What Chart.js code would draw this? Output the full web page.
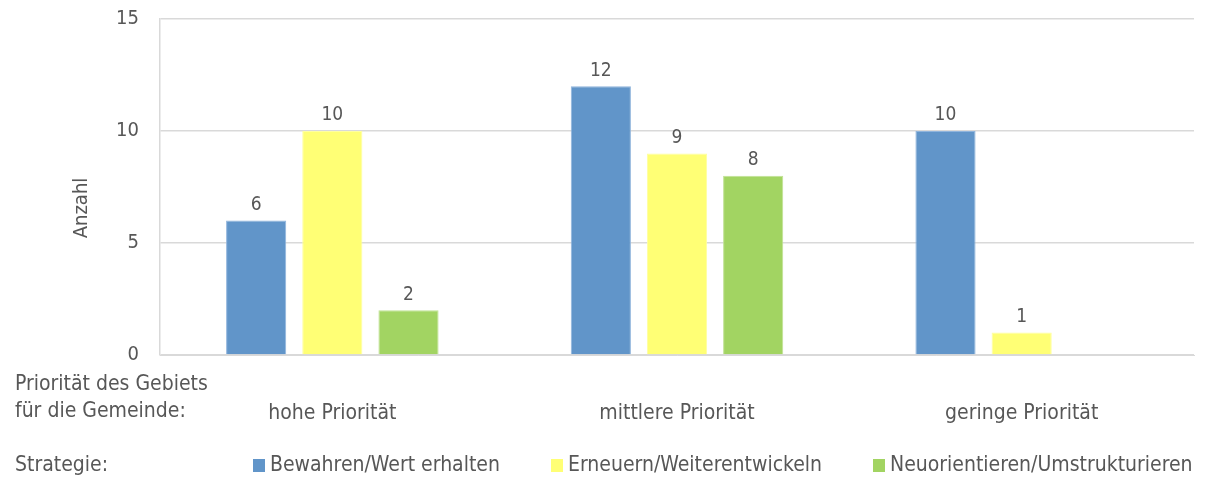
<!DOCTYPE html>
<html>
<head>
<meta charset="utf-8">
<script src="https://cdn.jsdelivr.net/npm/chart.js@4/dist/chart.umd.min.js"></script>
<style>
  html, body { margin: 0; padding: 0; background: #fff; }
  #wrap { width: 1206px; height: 477px; position: relative; }
</style>
</head>
<body>
<div id="wrap"><canvas id="bars"></canvas></div>
<script>
// categories and series
const categories = ['hohe Priorität', 'mittlere Priorität', 'geringe Priorität'];
const bewahren = [6, 12, 10];
const erneuern = [10, 9, 1];
const neuorientieren = [2, 8, null];
const seriesNames = ['Bewahren/Wert erhalten', 'Erneuern/Weiterentwickeln', 'Neuorientieren/Umstrukturieren'];
const yTicks = [0, 5, 10, 15];

const FONT = "'DejaVu Sans Condensed', 'Roboto', sans-serif";
const TEXT = '#575757';
const colors = ['#6195C9', '#FFFF75', '#A2D462'];
const borders = ['#8FB4DC', '#FFFFA0', '#C0E294'];

// value labels above bars, axis captions and the legend row
const extras = {
  id: 'extras',
  afterDatasetsDraw(chart) {
    const ctx = chart.ctx;
    ctx.save();
    ctx.fillStyle = TEXT;
    ctx.font = '19px ' + FONT;
    ctx.textAlign = 'center';
    ctx.textBaseline = 'bottom';
    chart.data.datasets.forEach((ds, i) => {
      chart.getDatasetMeta(i).data.forEach((bar, j) => {
        const v = ds.data[j];
        if (v == null) return;
        ctx.fillText(String(v), bar.x, bar.y - 6);
      });
    });

    ctx.font = '20px ' + FONT;
    // y title
    ctx.save();
    ctx.translate(82, 208);
    ctx.rotate(-Math.PI / 2);
    ctx.textBaseline = 'middle';
    ctx.fillText('Anzahl', 0, 0);
    ctx.restore();

    // x caption on the left
    ctx.font = '21px ' + FONT;
    ctx.textAlign = 'left';
    ctx.textBaseline = 'middle';
    ctx.fillText('Priorität des Gebiets', 15, 385);
    ctx.fillText('für die Gemeinde:', 15, 412);

    // legend
    const y = 466;
    ctx.fillText('Strategie:', 15, y);
    const xs = [253, 551, 873];
    chart.data.datasets.forEach((ds, i) => {
      ctx.fillStyle = ds.backgroundColor;
      ctx.fillRect(xs[i], y - 7, 12, 13);
      ctx.fillStyle = TEXT;
      ctx.fillText(ds.label, xs[i] + 17, y);
    });
    ctx.restore();
  }
};

new Chart(document.getElementById('bars'), {
  type: 'bar',
  data: {
    labels: categories,
    datasets: [bewahren, erneuern, neuorientieren].map((d, i) => ({
      label: seriesNames[i],
      data: d,
      backgroundColor: colors[i],
      borderColor: borders[i],
      borderWidth: 1,
      barPercentage: 0.79,
      categoryPercentage: 0.663
    }))
  },
  options: {
    responsive: true,
    maintainAspectRatio: false,
    animation: false,
    layout: { padding: { left: 0, right: 12, top: 19, bottom: 0 } },
    plugins: { legend: { display: false }, tooltip: { enabled: false } },
    scales: {
      x: {
        grid: { display: false },
        border: { display: true, color: '#d9d9d9', width: 1 },
        ticks: { color: TEXT, font: { family: FONT, size: 21 }, padding: 38, maxRotation: 0 },
        afterFit(scale) { scale.height = 122; }
      },
      y: {
        min: 0,
        max: 15,
        afterBuildTicks(scale) { scale.ticks = yTicks.map(v => ({ value: v })); },
        grid: { color: '#d9d9d9', lineWidth: 1.5, drawTicks: false },
        border: { display: true, color: '#d9d9d9', width: 1.5 },
        ticks: { color: TEXT, font: { family: FONT, size: 20 }, padding: 21 },
        afterFit(scale) {
          // keep the plot box fixed; tick labels may overhang the top
          scale.width = 160;
          scale.paddingTop = 0;
          scale.paddingBottom = 0;
        }
      }
    }
  },
  plugins: [extras]
});
</script>
</body>
</html>
